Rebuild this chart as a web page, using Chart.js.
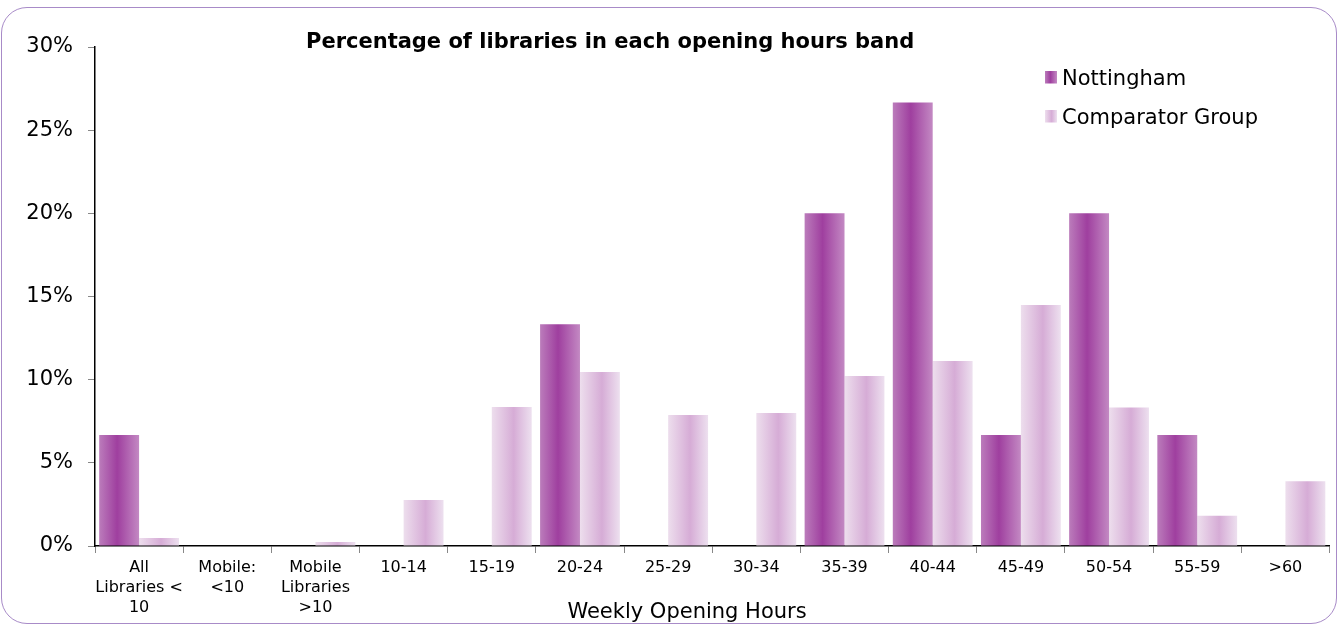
<!DOCTYPE html>
<html>
<head>
<meta charset="utf-8">
<script src="https://cdn.jsdelivr.net/npm/chart.js@4/dist/chart.umd.min.js"></script>
<style>
  body { margin: 0; background: #fff; }
  #frame { position: absolute; left: 1px; top: 7px; width: 1334px; height: 615px;
           border: 1.5px solid #a88bc8; border-radius: 26px; }
  #wrap { position: absolute; left: 0; top: 0; width: 1340px; height: 625px; }
</style>
</head>
<body>
<div id="frame"></div>
<div id="wrap"><canvas id="chartJam"></canvas></div>
<script>
// data (persen)
const categories = ['All Libraries < 10', 'Mobile: <10', 'Mobile Libraries >10', '10-14', '15-19', '20-24',
    '25-29', '30-34', '35-39', '40-44', '45-49', '50-54', '55-59', '>60'];
const tickLabels = [['All', 'Libraries <', '10'], ['Mobile:', '<10'], ['Mobile', 'Libraries', '>10'], '10-14', '15-19', '20-24',
    '25-29', '30-34', '35-39', '40-44', '45-49', '50-54', '55-59', '>60'];
const nottingham = [6.67, 0, 0, 0, 0, 13.33, 0, 0, 20, 26.67, 6.67, 20, 6.67, 0];
const comparator = [0.48, 0, 0.24, 2.77, 8.36, 10.46, 7.88, 8.0, 10.22, 11.12, 14.49, 8.32, 1.82, 3.9];
const yTicks = [0, 5, 10, 15, 20, 25, 30];

const FONT = '"DejaVu Sans", Verdana, sans-serif';

// warna gradasi tiap seri
const stops = [
    [[0, '#bb7cbb'], [0.45, '#9f3f9f'], [1, '#c389c3']],
    [[0, '#eddeed'], [0.55, '#d6acd6'], [1, '#ede0ef']]
];

function makeGrad(ctx, x0, x1, s) {
    const g = ctx.createLinearGradient(x0, 0, x1, 0);
    s.forEach(st => g.addColorStop(st[0], st[1]));
    return g;
}

// gradasi per batang, judul, legenda, judul sumbu
const hiasan = {
    id: 'hiasan',
    beforeDatasetsDraw(chart) {
        const ctx = chart.ctx;
        chart.data.datasets.forEach((ds, i) => {
            chart.getDatasetMeta(i).data.forEach(bar => {
                bar.options.backgroundColor = makeGrad(ctx, bar.x - bar.width / 2, bar.x + bar.width / 2, stops[i]);
            });
        });
    },
    afterDraw(chart) {
        const ctx = chart.ctx;
        ctx.save();
        ctx.fillStyle = '#000';
        ctx.textBaseline = 'alphabetic';

        ctx.textAlign = 'left';
        ctx.font = 'bold 21px ' + FONT;
        ctx.fillText('Percentage of libraries in each opening hours band', 306, 48);

        ctx.textAlign = 'center';
        ctx.font = '21px ' + FONT;
        ctx.fillText('Weekly Opening Hours', 687, 618);

        // legenda
        ctx.textAlign = 'left';
        const rows = [85, 124];
        const boxes = [71, 110];
        chart.data.datasets.forEach((ds, i) => {
            ctx.fillStyle = makeGrad(ctx, 1045, 1057, stops[i]);
            ctx.fillRect(1045, boxes[i], 12, 12.5);
            ctx.fillStyle = '#000';
            ctx.fillText(ds.label, 1062, rows[i]);
        });
        ctx.restore();
    }
};

document.addEventListener('DOMContentLoaded', function () {
    const ctx = document.getElementById('chartJam').getContext('2d');

    new Chart(ctx, {
        type: 'bar',
        data: {
            labels: categories,
            datasets: [{
                label: 'Nottingham',
                data: nottingham,
                backgroundColor: () => '#a040a0'
            }, {
                label: 'Comparator Group',
                data: comparator,
                backgroundColor: () => '#d8b0d8'
            }]
        },
        options: {
            responsive: true,
            maintainAspectRatio: false,
            animation: false,
            layout: { padding: { left: 0, right: 10.5, top: 47, bottom: 0 } },
            datasets: { bar: { categoryPercentage: 0.905, barPercentage: 1 } },
            plugins: {
                legend: { display: false },
                title: { display: false },
                tooltip: { enabled: false }
            },
            scales: {
                x: {
                    afterFit: s => { s.height = 79; },
                    grid: { drawOnChartArea: false, tickLength: 7, color: '#888' },
                    border: { color: '#000', width: 1.5 },
                    ticks: {
                        color: '#000',
                        padding: 5,
                        maxRotation: 0,
                        autoSkip: false,
                        font: { family: FONT, size: 16, lineHeight: '20px' },
                        callback: (v, i) => tickLabels[i]
                    }
                },
                y: {
                    min: 0,
                    max: 30,
                    afterFit: s => { s.width = 95; },
                    afterBuildTicks: s => { s.ticks = yTicks.map(v => ({ value: v })); },
                    grid: { drawOnChartArea: false, tickLength: 7, color: '#888' },
                    border: { color: '#000', width: 1.5 },
                    ticks: {
                        color: '#000',
                        padding: 15,
                        font: { family: FONT, size: 21 },
                        callback: v => v + '%'
                    }
                }
            }
        },
        plugins: [hiasan]
    });
});
</script>
</body>
</html>
